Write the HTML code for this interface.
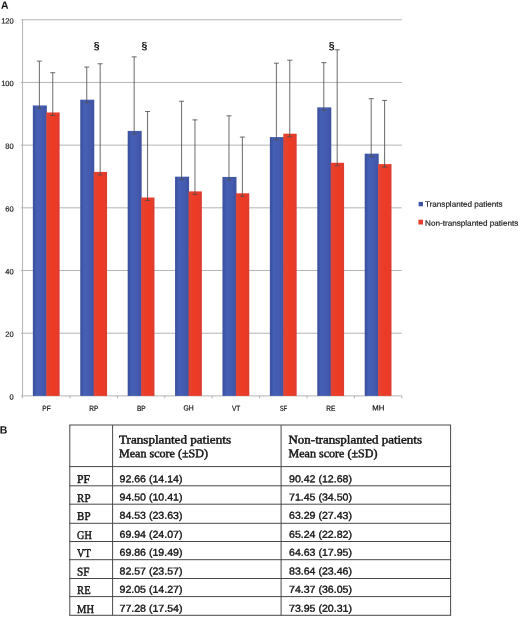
<!DOCTYPE html>
<html>
<head>
<meta charset="utf-8">
<title>Figure</title>
<style>
html,body{margin:0;padding:0;background:#fff}
body{width:520px;height:617px;overflow:hidden}
svg{display:block;will-change:transform}
.s{font-family:"Liberation Sans",sans-serif}
.r{font-family:"Liberation Serif",serif}
</style>
</head>
<body>
<svg width="520" height="617" viewBox="0 0 520 617">
<rect width="520" height="617" fill="#fff"/>
<defs><linearGradient id="gb" x1="0" y1="0" x2="1" y2="0"><stop offset="0" stop-color="#3a4e9b"/><stop offset="0.3" stop-color="#4560b6"/><stop offset="0.7" stop-color="#445aae"/><stop offset="1" stop-color="#3e52a0"/></linearGradient><linearGradient id="gr" x1="0" y1="0" x2="1" y2="0"><stop offset="0" stop-color="#df4538"/><stop offset="0.4" stop-color="#ed3c25"/><stop offset="0.8" stop-color="#e93b28"/><stop offset="1" stop-color="#d83e34"/></linearGradient></defs>
<!-- panel A: bar chart -->
<line x1="20.95" y1="395.90" x2="401.8" y2="395.90" stroke="#b4b4b4" stroke-width="1"/>
<text class="s" transform="translate(13.70 399.55) rotate(0.03)" font-size="7.5" fill="#111" text-anchor="end" stroke="#111" stroke-width="0.15">0</text>
<line x1="20.95" y1="333.21" x2="401.8" y2="333.21" stroke="#b4b4b4" stroke-width="1"/>
<text class="s" transform="translate(13.70 336.86) rotate(0.03)" font-size="7.5" fill="#111" text-anchor="end" stroke="#111" stroke-width="0.15">20</text>
<line x1="20.95" y1="270.52" x2="401.8" y2="270.52" stroke="#b4b4b4" stroke-width="1"/>
<text class="s" transform="translate(13.70 274.17) rotate(0.03)" font-size="7.5" fill="#111" text-anchor="end" stroke="#111" stroke-width="0.15">40</text>
<line x1="20.95" y1="207.82" x2="401.8" y2="207.82" stroke="#b4b4b4" stroke-width="1"/>
<text class="s" transform="translate(13.70 211.47) rotate(0.03)" font-size="7.5" fill="#111" text-anchor="end" stroke="#111" stroke-width="0.15">60</text>
<line x1="20.95" y1="145.13" x2="401.8" y2="145.13" stroke="#b4b4b4" stroke-width="1"/>
<text class="s" transform="translate(13.70 148.78) rotate(0.03)" font-size="7.5" fill="#111" text-anchor="end" stroke="#111" stroke-width="0.15">80</text>
<line x1="20.95" y1="82.44" x2="401.8" y2="82.44" stroke="#b4b4b4" stroke-width="1"/>
<text class="s" transform="translate(13.70 86.09) rotate(0.03)" font-size="7.5" fill="#111" text-anchor="end" stroke="#111" stroke-width="0.15">100</text>
<line x1="20.95" y1="19.75" x2="401.8" y2="19.75" stroke="#b4b4b4" stroke-width="1"/>
<text class="s" transform="translate(13.70 23.40) rotate(0.03)" font-size="7.5" fill="#111" text-anchor="end" stroke="#111" stroke-width="0.15">120</text>
<line x1="22.55" y1="19.75" x2="22.55" y2="398.4" stroke="#b4b4b4" stroke-width="1"/>
<rect x="32.85" y="105.45" width="14.00" height="290.45" fill="url(#gb)"/>
<rect x="46.25" y="112.47" width="13.40" height="283.43" fill="url(#gr)"/>
<line x1="69.96" y1="395.9" x2="69.96" y2="398.4" stroke="#b4b4b4" stroke-width="1"/>
<text class="s" transform="translate(46.45 410.60) rotate(0.03) scale(0.86 1)" font-size="7.6" fill="#111" text-anchor="middle" stroke="#111" stroke-width="0.2">PF</text>
<rect x="80.26" y="99.68" width="14.00" height="296.22" fill="url(#gb)"/>
<rect x="93.66" y="171.93" width="13.40" height="223.97" fill="url(#gr)"/>
<line x1="117.36" y1="395.9" x2="117.36" y2="398.4" stroke="#b4b4b4" stroke-width="1"/>
<text class="s" transform="translate(93.86 410.60) rotate(0.03) scale(0.86 1)" font-size="7.6" fill="#111" text-anchor="middle" stroke="#111" stroke-width="0.2">RP</text>
<rect x="127.67" y="130.93" width="14.00" height="264.97" fill="url(#gb)"/>
<rect x="141.07" y="197.51" width="13.40" height="198.39" fill="url(#gr)"/>
<line x1="164.77" y1="395.9" x2="164.77" y2="398.4" stroke="#b4b4b4" stroke-width="1"/>
<text class="s" transform="translate(141.27 410.60) rotate(0.03) scale(0.86 1)" font-size="7.6" fill="#111" text-anchor="middle" stroke="#111" stroke-width="0.2">BP</text>
<rect x="175.07" y="176.67" width="14.00" height="219.23" fill="url(#gb)"/>
<rect x="188.47" y="191.40" width="13.40" height="204.50" fill="url(#gr)"/>
<line x1="212.18" y1="395.9" x2="212.18" y2="398.4" stroke="#b4b4b4" stroke-width="1"/>
<text class="s" transform="translate(188.67 410.60) rotate(0.03) scale(0.9 1)" font-size="7.6" fill="#111" text-anchor="middle" stroke="#111" stroke-width="0.2">GH</text>
<rect x="222.48" y="176.92" width="14.00" height="218.98" fill="url(#gb)"/>
<rect x="235.88" y="193.31" width="13.40" height="202.59" fill="url(#gr)"/>
<line x1="259.58" y1="395.9" x2="259.58" y2="398.4" stroke="#b4b4b4" stroke-width="1"/>
<text class="s" transform="translate(236.08 410.60) rotate(0.03) scale(0.86 1)" font-size="7.6" fill="#111" text-anchor="middle" stroke="#111" stroke-width="0.2">VT</text>
<rect x="269.88" y="137.08" width="14.00" height="258.82" fill="url(#gb)"/>
<rect x="283.28" y="133.72" width="13.40" height="262.18" fill="url(#gr)"/>
<line x1="306.99" y1="395.9" x2="306.99" y2="398.4" stroke="#b4b4b4" stroke-width="1"/>
<text class="s" transform="translate(283.48 410.60) rotate(0.03) scale(0.72 1)" font-size="7.6" fill="#111" text-anchor="middle" stroke="#111" stroke-width="0.2">SF</text>
<rect x="317.29" y="107.36" width="14.00" height="288.54" fill="url(#gb)"/>
<rect x="330.69" y="162.78" width="13.40" height="233.12" fill="url(#gr)"/>
<line x1="354.39" y1="395.9" x2="354.39" y2="398.4" stroke="#b4b4b4" stroke-width="1"/>
<text class="s" transform="translate(330.89 410.60) rotate(0.03) scale(0.86 1)" font-size="7.6" fill="#111" text-anchor="middle" stroke="#111" stroke-width="0.2">RE</text>
<rect x="364.70" y="153.66" width="14.00" height="242.24" fill="url(#gb)"/>
<rect x="378.10" y="164.10" width="13.40" height="231.80" fill="url(#gr)"/>
<line x1="401.80" y1="395.9" x2="401.80" y2="398.4" stroke="#b4b4b4" stroke-width="1"/>
<text class="s" transform="translate(378.30 410.60) rotate(0.03) scale(1.02 1)" font-size="7.6" fill="#111" text-anchor="middle" stroke="#111" stroke-width="0.2">MH</text>
<path d="M39.35 61.13V108.45M36.85 61.13H41.85M36.85 108.45H41.85" stroke="#505050" stroke-width="0.85" fill="none"/>
<path d="M52.75 72.72V115.47M50.25 72.72H55.25M50.25 115.47H55.25" stroke="#505050" stroke-width="0.85" fill="none"/>
<path d="M86.76 67.05V102.68M84.26 67.05H89.26M84.26 102.68H89.26" stroke="#505050" stroke-width="0.85" fill="none"/>
<path d="M100.16 63.79V174.93M97.66 63.79H102.66M97.66 174.93H102.66" stroke="#505050" stroke-width="0.85" fill="none"/>
<path d="M134.17 56.86V133.93M131.67 56.86H136.67M131.67 133.93H136.67" stroke="#505050" stroke-width="0.85" fill="none"/>
<path d="M147.57 111.53V200.51M145.07 111.53H150.07M145.07 200.51H150.07" stroke="#505050" stroke-width="0.85" fill="none"/>
<path d="M181.57 101.22V179.67M179.07 101.22H184.07M179.07 179.67H184.07" stroke="#505050" stroke-width="0.85" fill="none"/>
<path d="M194.97 119.87V194.40M192.47 119.87H197.47M192.47 194.40H197.47" stroke="#505050" stroke-width="0.85" fill="none"/>
<path d="M228.98 115.82V179.92M226.48 115.82H231.48M226.48 179.92H231.48" stroke="#505050" stroke-width="0.85" fill="none"/>
<path d="M242.38 137.05V196.31M239.88 137.05H244.88M239.88 196.31H244.88" stroke="#505050" stroke-width="0.85" fill="none"/>
<path d="M276.38 63.20V140.08M273.88 63.20H278.88M273.88 140.08H278.88" stroke="#505050" stroke-width="0.85" fill="none"/>
<path d="M289.78 60.19V136.72M287.28 60.19H292.28M287.28 136.72H292.28" stroke="#505050" stroke-width="0.85" fill="none"/>
<path d="M323.79 62.63V110.36M321.29 62.63H326.29M321.29 110.36H326.29" stroke="#505050" stroke-width="0.85" fill="none"/>
<path d="M337.19 49.78V165.78M334.69 49.78H339.69M334.69 165.78H339.69" stroke="#505050" stroke-width="0.85" fill="none"/>
<path d="M371.20 98.68V156.66M368.70 98.68H373.70M368.70 156.66H373.70" stroke="#505050" stroke-width="0.85" fill="none"/>
<path d="M384.60 100.43V167.10M382.10 100.43H387.10M382.10 167.10H387.10" stroke="#505050" stroke-width="0.85" fill="none"/>
<text class="s" transform="translate(96.60 49.20) rotate(0.03)" font-size="10.5" fill="#111" text-anchor="middle" font-weight="bold">§</text>
<text class="s" transform="translate(144.40 49.20) rotate(0.03)" font-size="10.5" fill="#111" text-anchor="middle" font-weight="bold">§</text>
<text class="s" transform="translate(331.60 49.20) rotate(0.03)" font-size="10.5" fill="#111" text-anchor="middle" font-weight="bold">§</text>
<!-- legend -->
<rect x="418.6" y="201.9" width="4.4" height="4.4" fill="#4054a4"/>
<text class="s" transform="translate(425.00 206.70) rotate(0.03)" font-size="7.8" fill="#111" stroke="#111" stroke-width="0.15" textLength="77.5" lengthAdjust="spacingAndGlyphs">Transplanted patients</text>
<rect x="418.4" y="219.7" width="4.6" height="4.8" fill="#e73c2d"/>
<text class="s" transform="translate(425.00 225.70) rotate(0.03)" font-size="7.8" fill="#111" stroke="#111" stroke-width="0.15" textLength="93.3" lengthAdjust="spacingAndGlyphs">Non-transplanted patients</text>
<text class="s" transform="translate(0.90 8.80) rotate(0.03)" font-size="10.4" fill="#111" font-weight="bold">A</text>
<text class="s" transform="translate(-0.30 433.50) rotate(0.03)" font-size="10.5" fill="#111" font-weight="bold">B</text>
<!-- panel B: table -->
<line x1="69.3" y1="425.0" x2="451.1" y2="425.0" stroke="#484848" stroke-width="1"/>
<line x1="69.3" y1="466.6" x2="451.1" y2="466.6" stroke="#484848" stroke-width="1"/>
<line x1="69.3" y1="485.8" x2="451.1" y2="485.8" stroke="#484848" stroke-width="1"/>
<line x1="69.3" y1="504.2" x2="451.1" y2="504.2" stroke="#484848" stroke-width="1"/>
<line x1="69.3" y1="523.3" x2="451.1" y2="523.3" stroke="#484848" stroke-width="1"/>
<line x1="69.3" y1="541.5" x2="451.1" y2="541.5" stroke="#484848" stroke-width="1"/>
<line x1="69.3" y1="559.7" x2="451.1" y2="559.7" stroke="#484848" stroke-width="1"/>
<line x1="69.3" y1="578.5" x2="451.1" y2="578.5" stroke="#484848" stroke-width="1"/>
<line x1="69.3" y1="596.6" x2="451.1" y2="596.6" stroke="#484848" stroke-width="1"/>
<line x1="69.3" y1="615.3" x2="451.1" y2="615.3" stroke="#484848" stroke-width="1"/>
<line x1="69.8" y1="425.0" x2="69.8" y2="615.3" stroke="#484848" stroke-width="1"/>
<line x1="112.6" y1="425.0" x2="112.6" y2="615.3" stroke="#484848" stroke-width="1"/>
<line x1="281.1" y1="425.0" x2="281.1" y2="615.3" stroke="#484848" stroke-width="1"/>
<line x1="450.6" y1="425.0" x2="450.6" y2="615.3" stroke="#484848" stroke-width="1"/>
<text class="r" transform="translate(119.00 443.40) rotate(0.03)" font-size="11.9" fill="#111" stroke="#111" stroke-width="0.45" textLength="112" lengthAdjust="spacingAndGlyphs">Transplanted patients</text>
<text class="r" transform="translate(119.00 457.30) rotate(0.03)" font-size="11.9" fill="#111" stroke="#111" stroke-width="0.45" textLength="89" lengthAdjust="spacingAndGlyphs">Mean score (±SD)</text>
<text class="r" transform="translate(288.50 443.40) rotate(0.03)" font-size="11.9" fill="#111" stroke="#111" stroke-width="0.45" textLength="133.5" lengthAdjust="spacingAndGlyphs">Non-transplanted patients</text>
<text class="r" transform="translate(288.50 457.30) rotate(0.03)" font-size="11.9" fill="#111" stroke="#111" stroke-width="0.45" textLength="89" lengthAdjust="spacingAndGlyphs">Mean score (±SD)</text>
<text class="r" transform="translate(77.10 483.10) rotate(0.03)" font-size="11.8" fill="#111" stroke="#111" stroke-width="0.4" textLength="13.0" lengthAdjust="spacingAndGlyphs">PF</text>
<text class="s" transform="translate(119.50 482.15) rotate(0.03)" font-size="10.0" fill="#111" stroke="#111" stroke-width="0.35" textLength="63" lengthAdjust="spacingAndGlyphs">92.66 (14.14)</text>
<text class="s" transform="translate(289.00 482.15) rotate(0.03)" font-size="10.0" fill="#111" stroke="#111" stroke-width="0.35" textLength="63" lengthAdjust="spacingAndGlyphs">90.42 (12.68)</text>
<text class="r" transform="translate(77.10 501.50) rotate(0.03)" font-size="11.8" fill="#111" stroke="#111" stroke-width="0.4" textLength="13.4" lengthAdjust="spacingAndGlyphs">RP</text>
<text class="s" transform="translate(119.50 500.55) rotate(0.03)" font-size="10.0" fill="#111" stroke="#111" stroke-width="0.35" textLength="63" lengthAdjust="spacingAndGlyphs">94.50 (10.41)</text>
<text class="s" transform="translate(289.00 500.55) rotate(0.03)" font-size="10.0" fill="#111" stroke="#111" stroke-width="0.35" textLength="63" lengthAdjust="spacingAndGlyphs">71.45 (34.50)</text>
<text class="r" transform="translate(77.10 519.80) rotate(0.03)" font-size="11.8" fill="#111" stroke="#111" stroke-width="0.4" textLength="13.4" lengthAdjust="spacingAndGlyphs">BP</text>
<text class="s" transform="translate(119.50 518.85) rotate(0.03)" font-size="10.0" fill="#111" stroke="#111" stroke-width="0.35" textLength="63" lengthAdjust="spacingAndGlyphs">84.53 (23.63)</text>
<text class="s" transform="translate(289.00 518.85) rotate(0.03)" font-size="10.0" fill="#111" stroke="#111" stroke-width="0.35" textLength="63" lengthAdjust="spacingAndGlyphs">63.29 (27.43)</text>
<text class="r" transform="translate(77.10 538.60) rotate(0.03)" font-size="11.8" fill="#111" stroke="#111" stroke-width="0.4" textLength="14.8" lengthAdjust="spacingAndGlyphs">GH</text>
<text class="s" transform="translate(119.50 537.65) rotate(0.03)" font-size="10.0" fill="#111" stroke="#111" stroke-width="0.35" textLength="63" lengthAdjust="spacingAndGlyphs">69.94 (24.07)</text>
<text class="s" transform="translate(289.00 537.65) rotate(0.03)" font-size="10.0" fill="#111" stroke="#111" stroke-width="0.35" textLength="63" lengthAdjust="spacingAndGlyphs">65.24 (22.82)</text>
<text class="r" transform="translate(77.10 556.60) rotate(0.03)" font-size="11.8" fill="#111" stroke="#111" stroke-width="0.4" textLength="13.7" lengthAdjust="spacingAndGlyphs">VT</text>
<text class="s" transform="translate(119.50 555.65) rotate(0.03)" font-size="10.0" fill="#111" stroke="#111" stroke-width="0.35" textLength="63" lengthAdjust="spacingAndGlyphs">69.86 (19.49)</text>
<text class="s" transform="translate(289.00 555.65) rotate(0.03)" font-size="10.0" fill="#111" stroke="#111" stroke-width="0.35" textLength="63" lengthAdjust="spacingAndGlyphs">64.63 (17.95)</text>
<text class="r" transform="translate(77.10 575.40) rotate(0.03)" font-size="11.8" fill="#111" stroke="#111" stroke-width="0.4" textLength="12.5" lengthAdjust="spacingAndGlyphs">SF</text>
<text class="s" transform="translate(119.50 574.45) rotate(0.03)" font-size="10.0" fill="#111" stroke="#111" stroke-width="0.35" textLength="63" lengthAdjust="spacingAndGlyphs">82.57 (23.57)</text>
<text class="s" transform="translate(289.00 574.45) rotate(0.03)" font-size="10.0" fill="#111" stroke="#111" stroke-width="0.35" textLength="63" lengthAdjust="spacingAndGlyphs">83.64 (23.46)</text>
<text class="r" transform="translate(77.10 593.70) rotate(0.03)" font-size="11.8" fill="#111" stroke="#111" stroke-width="0.4" textLength="13.5" lengthAdjust="spacingAndGlyphs">RE</text>
<text class="s" transform="translate(119.50 592.75) rotate(0.03)" font-size="10.0" fill="#111" stroke="#111" stroke-width="0.35" textLength="63" lengthAdjust="spacingAndGlyphs">92.05 (14.27)</text>
<text class="s" transform="translate(289.00 592.75) rotate(0.03)" font-size="10.0" fill="#111" stroke="#111" stroke-width="0.35" textLength="63" lengthAdjust="spacingAndGlyphs">74.37 (36.05)</text>
<text class="r" transform="translate(77.10 612.70) rotate(0.03)" font-size="11.8" fill="#111" stroke="#111" stroke-width="0.4" textLength="16.9" lengthAdjust="spacingAndGlyphs">MH</text>
<text class="s" transform="translate(119.50 611.75) rotate(0.03)" font-size="10.0" fill="#111" stroke="#111" stroke-width="0.35" textLength="63" lengthAdjust="spacingAndGlyphs">77.28 (17.54)</text>
<text class="s" transform="translate(289.00 611.75) rotate(0.03)" font-size="10.0" fill="#111" stroke="#111" stroke-width="0.35" textLength="63" lengthAdjust="spacingAndGlyphs">73.95 (20.31)</text>
</svg>
</body>
</html>
